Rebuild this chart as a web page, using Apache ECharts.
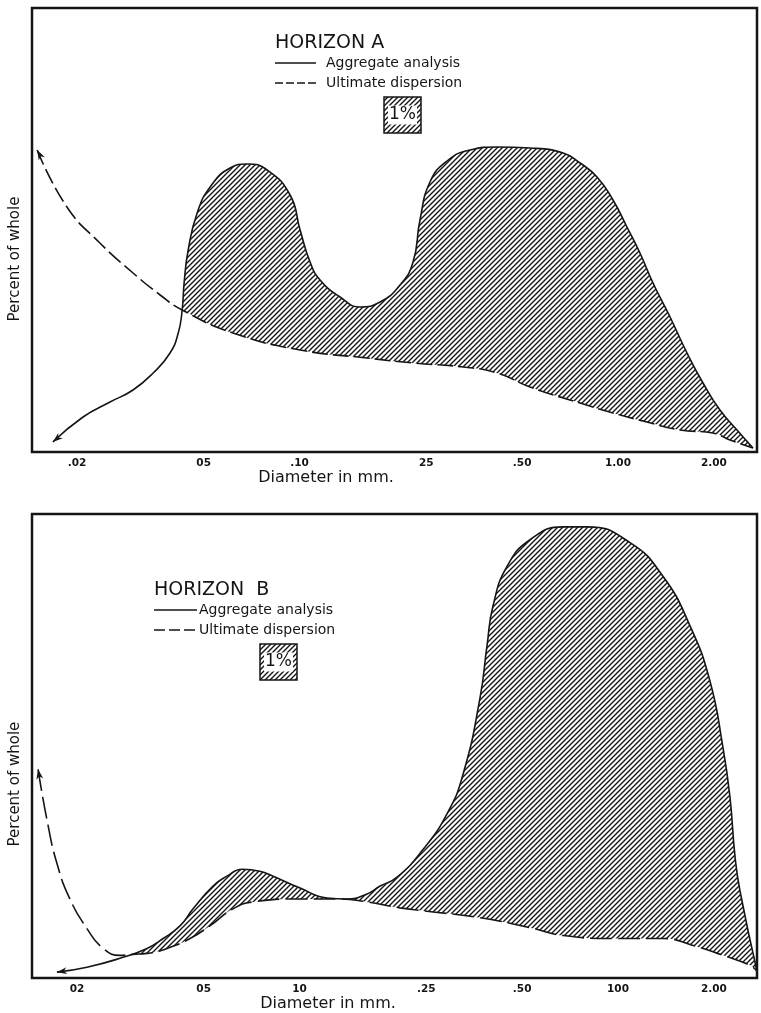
<!DOCTYPE html>
<html><head><meta charset="utf-8">
<script src="https://cdn.jsdelivr.net/npm/echarts@6/dist/echarts.min.js"></script>
<style>html,body{margin:0;padding:0;background:#fff}#c{width:761px;height:1013px}</style>
</head><body><div id="c"></div>
<script>
// ---- Data (diameter in mm, relative "percent of whole") ----
const tickValues = [0.02, 0.05, 0.10, 0.25, 0.50, 1.00, 2.00];
const tickLabelsA = ['.02', '05', '.10', '25', '.50', '1.00', '2.00'];
const tickLabelsB = ['02', '05', '10', '.25', '.50', '100', '2.00'];
const xRange = [0.01445, 2.732];
const yMaxA = 44.4;
const yMaxB = 46.9;

const aggregateA = [
  [0.0168, 1.0], [0.0209, 3.5], [0.0254, 5.0], [0.0300, 6.2], [0.0347, 7.9], [0.0392, 9.9],
  [0.0416, 11.9], [0.0428, 14.2], [0.0434, 16.9], [0.0447, 20.2], [0.0477, 23.9], [0.0524, 26.5],
  [0.0605, 28.4], [0.0684, 28.8], [0.0791, 28.2], [0.0934, 25.7], [0.1004, 22.2], [0.1079, 19.0],
  [0.1160, 17.2], [0.1340, 15.5], [0.1549, 14.5], [0.1790, 15.0], [0.2068, 16.7], [0.2272, 19.0],
  [0.2389, 23.2], [0.2568, 27.0], [0.2904, 29.1], [0.3430, 30.2], [0.4169, 30.5], [0.5294, 30.4],
  [0.6721, 29.9], [0.7599, 28.9], [0.8592, 27.5], [0.9645, 25.2], [1.067, 22.5], [1.172, 19.9],
  [1.288, 16.9], [1.457, 13.5], [1.647, 9.9], [1.849, 6.9], [2.090, 4.2], [2.364, 2.2], [2.654, 0.4]
];
const ultimateA = [
  [0.0150, 30.2], [0.0186, 24.5], [0.0236, 20.9], [0.0300, 17.9], [0.0365, 15.7], [0.0428, 14.2],
  [0.0618, 11.9], [0.1004, 10.2], [0.1628, 9.4], [0.2272, 8.9], [0.3262, 8.5], [0.4169, 7.9],
  [0.5294, 6.5], [0.7599, 4.9], [0.9645, 3.9], [1.233, 3.0], [1.565, 2.2], [1.987, 1.9],
  [2.247, 1.2], [2.654, 0.4]
];
const aggregateB = [
  [0.0173, 0.6], [0.0215, 1.1], [0.0273, 2.0], [0.0332, 3.0], [0.0373, 4.0], [0.0422, 5.3],
  [0.0463, 7.0], [0.0535, 9.3], [0.0592, 10.3], [0.0661, 11.0], [0.0750, 10.8], [0.0826, 10.3],
  [0.1004, 9.1], [0.1220, 8.1], [0.1410, 8.0], [0.1628, 8.5], [0.1790, 9.3], [0.2024, 10.2],
  [0.2442, 13.0], [0.2904, 16.6], [0.3262, 20.6], [0.3686, 28.3], [0.3879, 33.6], [0.4050, 37.6],
  [0.4482, 41.6], [0.5294, 44.3], [0.6721, 45.6], [0.7991, 45.6], [1.091, 44.0], [1.384, 40.6],
  [1.683, 35.6], [1.945, 30.0], [2.136, 23.3], [2.247, 18.3], [2.330, 12.3], [2.416, 8.8], [2.732, 0.7]
];
const ultimateB = [
  [0.0151, 21.1], [0.0161, 16.0], [0.0173, 11.6], [0.0190, 8.0], [0.0215, 5.0], [0.0242, 3.0],
  [0.0273, 2.3], [0.0300, 2.4], [0.0332, 2.5], [0.0384, 3.0], [0.0453, 4.0], [0.0524, 5.3],
  [0.0618, 7.0], [0.0715, 7.7], [0.1004, 8.0], [0.1340, 8.0], [0.1628, 7.7], [0.2068, 7.1],
  [0.2442, 6.8], [0.3686, 6.1], [0.5294, 5.1], [0.6721, 4.3], [0.9645, 4.0], [1.384, 4.0],
  [1.720, 3.3], [2.136, 2.3], [2.597, 1.3], [2.732, 0.7]
];
// arrowhead rotation (deg, counter-clockwise) at the first point of each curve
const arrowRot = { aggA: 130, ultA: 28, aggB: 99, ultB: 10 };

// ---- Helpers ----
const FONT = 'DejaVu Sans';
const INK = '#151515';
const lg = d => Math.log10(d);
const tickLog = tickValues.map(lg);
function labelFor(labels) {
  return v => {
    let best = 0;
    tickLog.forEach((t, i) => { if (Math.abs(t - v) < Math.abs(tickLog[best] - v)) best = i; });
    return labels[best];
  };
}
function hatchCanvas() {
  const s = 5, c = document.createElement('canvas');
  c.width = s; c.height = s;
  const g = c.getContext('2d');
  g.strokeStyle = INK; g.lineWidth = 1.4;
  g.beginPath();
  g.moveTo(0, s); g.lineTo(s, 0);
  g.moveTo(-1, 1); g.lineTo(1, -1);
  g.moveTo(s - 1, s + 1); g.lineTo(s + 1, s - 1);
  g.stroke();
  return c;
}
const hatch = { image: hatchCanvas(), repeat: 'repeat' };
const ARROW = 'path://M5,0 L10,12 L5,8.5 L0,12 Z';
function pts(arr, rot) {
  return arr.map(([d, y], i) => {
    if (i === 0 && rot != null) {
      const h = 10, r = rot * Math.PI / 180;
      return { value: [lg(d), y], symbol: ARROW, symbolSize: [7, h], symbolRotate: rot,
               symbolOffset: [h / 2 * Math.sin(r), h / 2 * Math.cos(r)] };
    }
    return [lg(d), y];
  });
}
const SMOOTH = 0.5;
function panelSeries(idx, agg, ult, rotAgg, rotUlt, dash) {
  const base = { type: 'line', xAxisIndex: idx, yAxisIndex: idx, smooth: SMOOTH, silent: true, animation: false };
  return [
    Object.assign({}, base, { name: 'Aggregate analysis', data: pts(agg), symbol: 'none',
      lineStyle: { width: 0 }, areaStyle: { color: hatch, opacity: 1 }, z: 1 }),
    Object.assign({}, base, { name: 'Ultimate dispersion', data: pts(ult), symbol: 'none',
      lineStyle: { width: 0 }, areaStyle: { color: '#fff', opacity: 1 }, z: 2 }),
    Object.assign({}, base, { name: 'Aggregate analysis', data: pts(agg, rotAgg), symbol: 'none',
      showSymbol: true, showAllSymbol: true, itemStyle: { color: INK },
      lineStyle: { color: INK, width: 1.6 }, z: 3 }),
    Object.assign({}, base, { name: 'Ultimate dispersion', data: pts(ult, rotUlt), symbol: 'none',
      showSymbol: true, showAllSymbol: true, itemStyle: { color: INK },
      lineStyle: { color: INK, width: 1.6, type: dash }, z: 3 })
  ];
}
function xAxisFor(idx, labels, namePad) {
  return {
    gridIndex: idx, type: 'value', min: lg(xRange[0]), max: lg(xRange[1]),
    axisLine: { show: false }, splitLine: { show: false },
    axisTick: { show: true, inside: true, length: 4, customValues: tickLog, lineStyle: { color: INK, width: 1.5 } },
    axisLabel: { customValues: tickLog, formatter: labelFor(labels), color: INK, fontSize: 10.5,
                 fontWeight: 'bold', fontFamily: FONT, margin: 6 },
    name: 'Diameter in mm.', nameLocation: 'middle', nameGap: 15,
    nameTextStyle: { color: INK, fontSize: 16, fontFamily: FONT, padding: [0, namePad, 0, 0] }
  };
}
function yAxisFor(idx, max, namePad) {
  return {
    gridIndex: idx, type: 'value', min: 0, max: max,
    axisLine: { show: false }, axisTick: { show: false }, axisLabel: { show: false }, splitLine: { show: false },
    name: 'Percent of whole', nameLocation: 'middle', nameRotate: 90, nameGap: 9,
    nameTextStyle: { color: INK, fontSize: 15, fontFamily: FONT, padding: [0, namePad, 0, 0] }
  };
}
function legendFor(x0, yTitle, title, lineEnd, textX, boxX, boxY, dashL) {
  const y1 = yTitle + 20, y2 = yTitle + 40;
  return [
    { type: 'text', x: x0, y: yTitle, style: { text: title, fill: INK, font: '19px "' + FONT + '"', textVerticalAlign: 'middle' } },
    { type: 'line', shape: { x1: x0, y1: y1, x2: lineEnd, y2: y1 }, style: { stroke: INK, lineWidth: 1.4 } },
    { type: 'text', x: textX, y: y1, style: { text: 'Aggregate analysis', fill: INK, font: '14px "' + FONT + '"', textVerticalAlign: 'middle' } },
    { type: 'line', shape: { x1: x0, y1: y2, x2: lineEnd, y2: y2 }, style: { stroke: INK, lineWidth: 1.4, lineDash: dashL } },
    { type: 'text', x: textX, y: y2, style: { text: 'Ultimate dispersion', fill: INK, font: '14px "' + FONT + '"', textVerticalAlign: 'middle' } },
    { type: 'rect', shape: { x: boxX, y: boxY, width: 37, height: 36 }, style: { fill: hatch, stroke: INK, lineWidth: 1.5 } },
    { type: 'text', x: boxX + 18.5, y: boxY + 18, style: { text: '1%', fill: INK, font: '17px "' + FONT + '"',
      textAlign: 'center', textVerticalAlign: 'middle', backgroundColor: '#fff', padding: [1, 1] } }
  ];
}

const chart = echarts.init(document.getElementById('c'), null, { renderer: 'canvas' });
chart.setOption({
  backgroundColor: '#fff',
  animation: false,
  grid: [
    { left: 32, top: 8, right: 4, height: 444, show: true, borderColor: INK, borderWidth: 2.5, z: 10 },
    { left: 32, top: 514, right: 4, height: 469, show: true, borderColor: INK, borderWidth: 2.5, z: 10 }
  ],
  xAxis: [xAxisFor(0, tickLabelsA, 137), xAxisFor(1, tickLabelsB, 133)],
  yAxis: [yAxisFor(0, yMaxA, 58), yAxisFor(1, yMaxB, 76)],
  series: [
    ...panelSeries(0, aggregateA, ultimateA, arrowRot.aggA, arrowRot.ultA, [16, 5]),
    ...panelSeries(1, aggregateB, ultimateB, arrowRot.aggB, arrowRot.ultB, [22, 6])
  ],
  graphic: [
    ...legendFor(275, 43, 'HORIZON A', 316, 326, 384, 97, [8, 3]),
    ...legendFor(154, 590, 'HORIZON  B', 197, 199, 260, 644, [11, 4])
  ]
});
</script>
</body></html>
